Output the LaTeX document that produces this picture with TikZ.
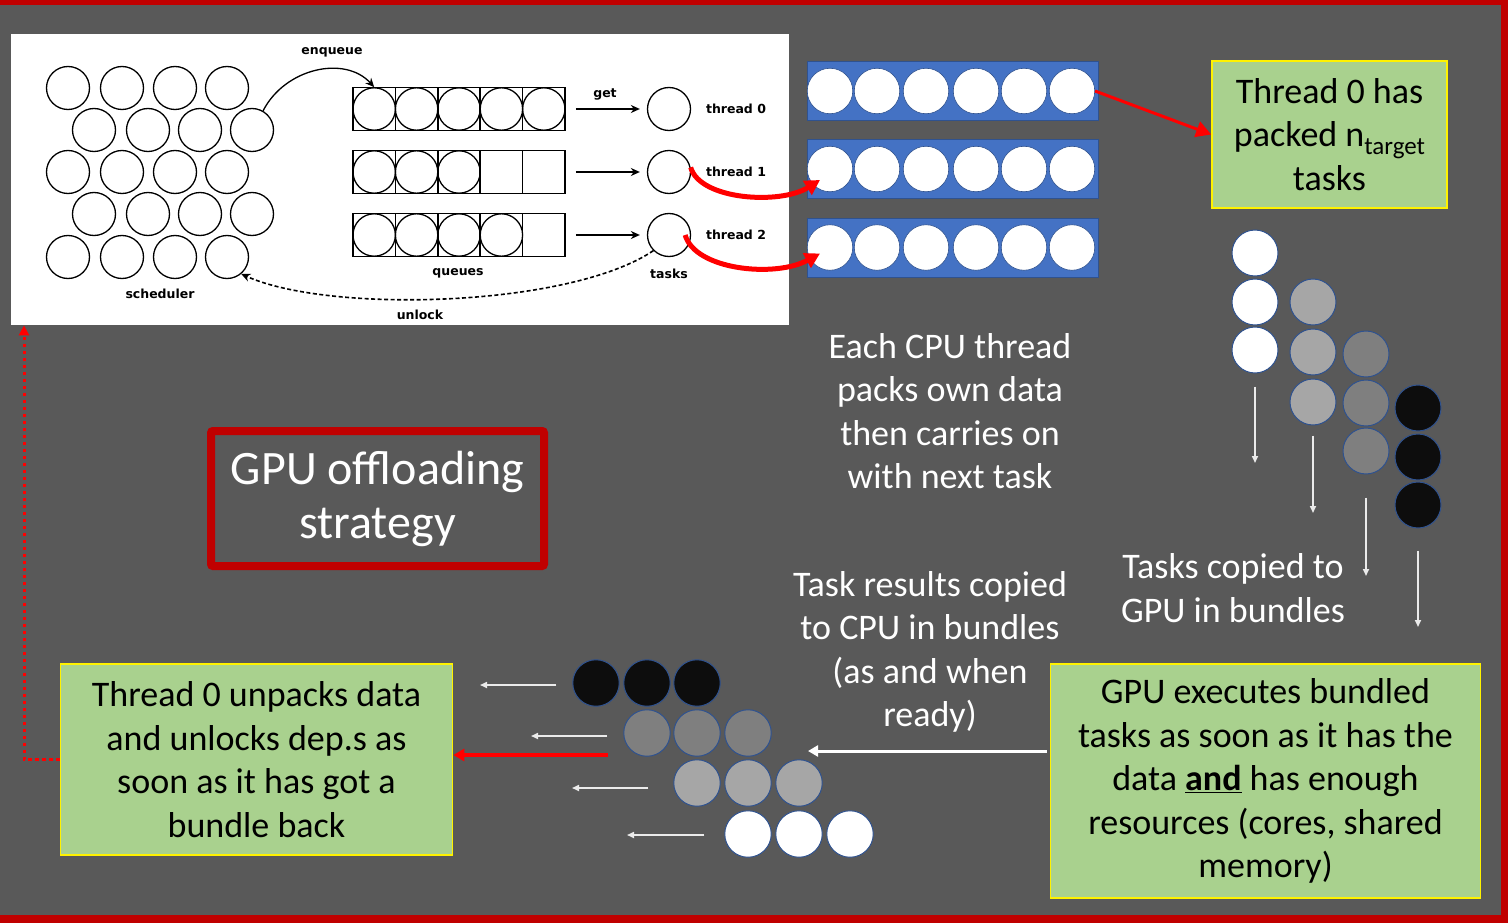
\documentclass[tikz,border=0pt]{standalone}
\usepackage{fontspec}
\setmainfont{Carlito}
\newfontfamily\djv{DejaVu Sans}
\usetikzlibrary{arrows.meta}
\definecolor{bg}{HTML}{595959}
\definecolor{frame}{HTML}{C00000}
\definecolor{gbox}{HTML}{A9D18E}
\definecolor{bbar}{HTML}{4472C4}
\definecolor{bedge}{HTML}{2F528F}
\definecolor{lgray}{HTML}{A6A6A6}
\definecolor{mgray}{HTML}{7F7F7F}
\definecolor{dblack}{HTML}{0D0D0D}
\definecolor{redarr}{HTML}{FF0000}
\tikzset{
  schedc/.style={circle,draw=black,line width=1.3pt,minimum size=43pt,inner sep=0pt},
  qcirc/.style={circle,draw=black,line width=1.3pt,minimum size=42.4pt,inner sep=0pt},
  qbox/.style={rectangle,draw=black,line width=1.5pt,minimum width=212pt,minimum height=43.4pt,inner sep=0pt},
  lab/.style={font=\djv\bfseries\fontsize{12.5}{14}\selectfont,text=black,inner sep=0pt},
  karrow/.style={line width=1.3pt,-{Stealth[length=9pt,width=8pt]}},
  bar/.style={rectangle,fill=bbar,draw=bedge,line width=1pt,minimum width=291pt,minimum height=59pt,inner sep=0pt},
  bcirc/.style={circle,fill=white,draw=bedge,line width=0.6pt,minimum size=45.5pt,inner sep=0pt},
  tok/.style={circle,fill=#1,draw=bedge,line width=1pt,minimum size=46pt,inner sep=0pt},
  rarrow/.style={draw=redarr,line width=5pt,-{Triangle[length=15pt,width=16pt]}},
  warrow/.style={draw=white!92!black,line width=1.6pt,-{Triangle[length=7pt,width=6pt]}},
  txt/.style={align=center,font=\fontsize{36}{43.5}\selectfont,inner sep=0pt},
  wtext/.style={txt,text=white},
  greenbox/.style={txt,rectangle,fill=gbox,draw=yellow,line width=1.6pt,text=black}
}
\begin{document}
\begin{tikzpicture}[x=1pt,y=-1pt]
\useasboundingbox (0,0) rectangle (1508,923);
\fill[bg] (0,0) rectangle (1508,923);
\fill[frame] (0,0) rectangle (1508,5);
\fill[frame] (1501,0) rectangle (1508,923);
\fill[frame] (0,915) rectangle (1508,923);

% ---------- inset: scheduler / queues / threads ----------
\node[fill=white,minimum width=778pt,minimum height=291pt,inner sep=0pt,anchor=north west] (inset) at (11,34) {};
\foreach \r/\y in {1/88,3/172,5/257}
  \foreach \c/\x in {1/68,2/122,3/175,4/227}
    \node[schedc] (s\r\c) at (\x,\y) {};
\foreach \r/\y in {2/130,4/214}
  \foreach \c/\x in {1/94,2/148,3/200,4/252}
    \node[schedc] (s\r\c) at (\x,\y) {};
\node[lab] (lsched) at (160,294) {scheduler};

\foreach \q/\y/\n in {1/109/5,2/172/3,3/235/4}{
  \node[qbox] (q\q) at (459,\y) {};
  \foreach \k in {1,...,4}
    \draw[line width=1.5pt] ({353+42.4*\k},\y-21.7) -- ({353+42.4*\k},\y+21.7);
  \foreach \k in {1,...,\n}
    \node[qcirc] (q\q c\k) at ({353+21.2+42.4*(\k-1)},\y) {};
}
\node[lab] (lqueues) at (458,273) {queues};

\node[schedc] (t0) at (669,109) {};
\node[schedc] (t1) at (669,172) {};
\node[schedc] (t2) at (669,235) {};
\node[lab] (lt0) at (736,109) {thread 0};
\node[lab] (lt1) at (736,172) {thread 1};
\node[lab] (lt2) at (736,235) {thread 2};
\node[lab] (ltasks) at (669,274) {tasks};
\node[lab] (lget) at (605,94) {get};
\node[lab] (lenq) at (332,52) {enqueue};
\node[lab] (lunlock) at (420,315) {unlock};

\draw[karrow] ([xshift=10pt]q1.east) -- ([xshift=-7pt]t0.west);
\draw[karrow] ([xshift=10pt]q2.east) -- ([xshift=-7pt]t1.west);
\draw[karrow] ([xshift=10pt]q3.east) -- ([xshift=-7pt]t2.west);
\draw[karrow] (s24.60) .. controls (285,68) and (345,55) .. (q1c1.north);
\draw[karrow,dashed,line width=1.6pt,dash pattern=on 4pt off 2.5pt] (t2.225) .. controls (570,307) and (330,314) .. (s54.-50);

% ---------- packed bars ----------
\foreach \b/\y in {1/91,2/169,3/247.5}{
  \node[bar] (bar\b) at (952.5,\y) {};
  \foreach \k/\x in {1/830,2/877,3/926,4/976,5/1024,6/1072}
    \node[bcirc] (b\b\k) at (\x,\y) {};
}
\draw[rarrow] (t1.12) .. controls (700,200) and (780,205) .. ([shift={(-10pt,-11pt)}]b21.center);
\draw[rarrow] ([xshift=-6pt]t2.east) .. controls (695,270) and (775,278) .. ([shift={(-10pt,-6pt)}]b31.center);

\node[greenbox,minimum width=235pt,minimum height=147pt] (g1) at (1329.5,134.5)
  {Thread 0 has\\packed n\raisebox{-0.22em}{\fontsize{25}{25}\selectfont target}\\tasks};
\draw[rarrow,line width=3pt] (b16.east) -- (g1.west);

% ---------- columns going to GPU ----------
\foreach \k/\y in {1/253,2/302,3/350} \node[tok=white] (c1\k) at (1255,\y) {};
\foreach \k/\y in {1/302,2/352,3/402} \node[tok=lgray] (c2\k) at (1313,\y) {};
\foreach \k/\y in {1/354,2/403,3/451} \node[tok=mgray] (c3\k) at (1366,\y) {};
\foreach \k/\y in {1/408,2/457,3/505} \node[tok=dblack] (c4\k) at (1418,\y) {};
\coordinate (e1) at (1255,463);
\coordinate (e2) at (1313,513);
\coordinate (e3) at (1366,576);
\coordinate (e4) at (1418,627);
\draw[warrow] ([yshift=-13pt]c13.south) -- (e1);
\draw[warrow] ([yshift=-10pt]c23.south) -- (e2);
\draw[warrow] ([yshift=-23pt]c33.south) -- (e3);
\draw[warrow] ([yshift=-22pt]c43.south) -- (e4);

\node[wtext] (tcpu) at (950,411) {Each CPU thread\\packs own data\\then carries on\\with next task};
\node[wtext] (tcopy) at (1233,588) {Tasks copied to\\GPU in bundles};
\node[wtext] (tres) at (930,652) {Task results copied\\to CPU in bundles\\(as and when\\ready)};

\node[greenbox,minimum width=430pt,minimum height=234pt] (g2) at (1265.5,781)
  {GPU executes bundled\\tasks as soon as it has the\\data \textbf{\underline{and}} has enough\\resources (cores, shared\\memory)};
\coordinate (wend) at (808,751);
\draw[draw=white,line width=3pt,-{Triangle[length=10pt,width=11pt]}] ([shift={(-3pt,30pt)}]g2.west) -- (wend);

% ---------- results back ----------
\foreach \k/\x in {1/596,2/647,3/697} \node[tok=dblack,minimum size=46.5pt] (r1\k) at (\x,683) {};
\foreach \k/\x in {1/647,2/697,3/748} \node[tok=mgray,minimum size=46.5pt] (r2\k) at (\x,733) {};
\foreach \k/\x in {1/697,2/748,3/799} \node[tok=lgray,minimum size=46.5pt] (r3\k) at (\x,783) {};
\foreach \k/\x in {1/748,2/799,3/850} \node[tok=white,minimum size=46.5pt] (r4\k) at (\x,834) {};
\coordinate (l1) at (480,685);
\coordinate (l2) at (531,736);
\coordinate (l3) at (572,788);
\coordinate (l4) at (627,835);
\draw[warrow] ([shift={(-16pt,-2pt)}]r11.west) -- (l1);
\draw[warrow] ([shift={(-16pt,-3pt)}]r21.west) -- (l2);
\draw[warrow] ([shift={(-25pt,-5pt)}]r31.west) -- (l3);
\draw[warrow] ([shift={(-20pt,-1pt)}]r41.west) -- (l4);

\node[greenbox,minimum width=392pt,minimum height=191pt] (g3) at (256.5,759.5)
  {Thread 0 unpacks data\\and unlocks dep.s as\\soon as it has got a\\bundle back};
\coordinate (rstart) at (608,755);
\draw[draw=redarr,line width=4pt,-{Triangle[length=11pt,width=12pt]}] (rstart) -- ([yshift=4.5pt]g3.east);
\draw[draw=redarr,line width=3pt,dash pattern=on 3.5pt off 3.5pt,-{Triangle[length=10pt,width=10pt]}]
  (g3.west) -| ([xshift=13pt]inset.south west);

% ---------- title box ----------
\node[wtext,draw=frame,line width=8pt,rounded corners=2pt,minimum width=333pt,minimum height=135pt,
  font=\fontsize{48}{54}\selectfont] (title) at (377.5,498.5) {GPU offloading\\strategy};
\end{tikzpicture}
\end{document}
